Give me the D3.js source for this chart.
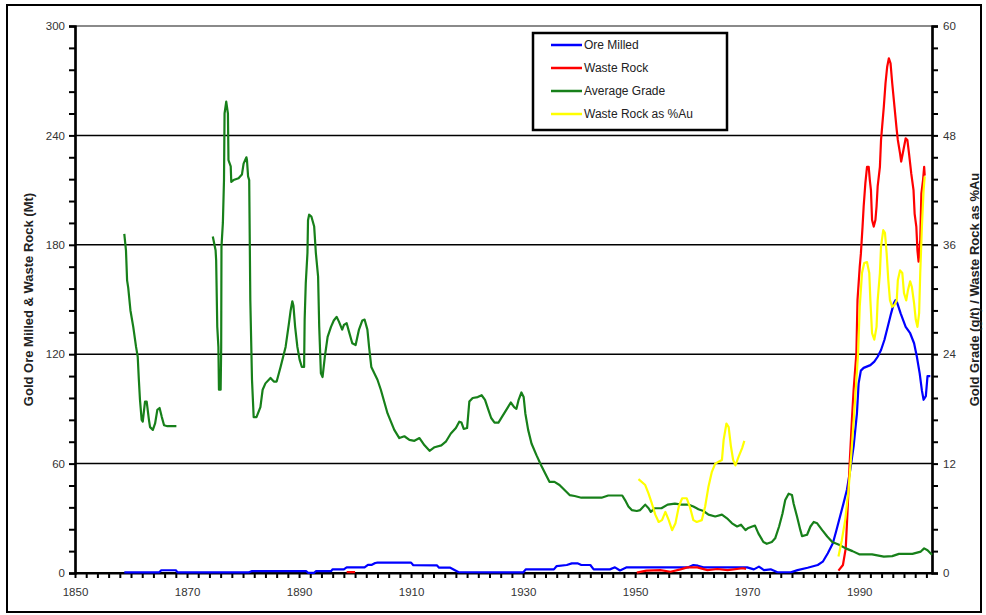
<!DOCTYPE html>
<html>
<head>
<meta charset="utf-8">
<script src="https://cdn.jsdelivr.net/npm/d3@7"></script>
<style>
  html, body { margin: 0; padding: 0; background: #fff; }
  svg { display: block; font-family: "Liberation Sans", Arial, sans-serif; }
</style>
</head>
<body>
<svg id="chart" width="986" height="615"></svg>
<script>
// ---------- DATA ----------
const xTickLabels = [1850, 1870, 1890, 1910, 1930, 1950, 1970, 1990];
const leftTicks = [0, 60, 120, 180, 240, 300];
const rightTicks = [0, 12, 24, 36, 48, 60];
const seriesNames = ["Ore Milled", "Waste Rock", "Average Grade", "Waste Rock as %Au"];

// Ore Milled (Mt, left axis)
const oreYears = [1858.8,1865,1865.4,1868,1868.3,1881,1881.5,1891.3,1891.6,1892.7,1893,1895.7,1896,1898,1898.5,1901.7,1902.3,1903,1903.6,1904,1910,1910.4,1914.6,1915,1917,1918.5,1930,1930.5,1935.5,1936,1937.8,1938.7,1939.7,1940.4,1942,1942.6,1945.5,1946.4,1947.3,1948.5,1959.5,1960.4,1961.2,1962.2,1970,1971.2,1972.1,1973,1974.2,1975.4,1977.8,1979,1980.8,1982.6,1983.5,1984.4,1985.3,1985.9,1987.2,1987.8,1988.4,1989,1989.6,1989.9,1990.3,1990.8,1992,1992.7,1993.3,1993.9,1994.5,1995.1,1995.7,1996.2,1996.5,1996.8,1997.4,1998.3,1999.1,1999.8,2000.3,2000.8,2001.2,2001.5,2001.9,2002.2,2002.7];
const oreMt    = [0.3,0.3,1.5,1.5,0.3,0.3,1.0,1.0,0.1,0.1,1.0,1.0,2.0,2.0,3.1,3.1,4.5,4.5,5.5,5.7,5.7,4.3,4.2,2.9,2.9,0.4,0.3,2.0,2.0,3.8,4.4,5.3,5.3,4.4,4.4,2.0,2.0,3.1,1.4,3.1,3.1,4.4,4.0,3.1,3.1,2.0,3.5,1.6,2.0,0.4,0.4,1.6,2.9,4.4,6.2,10.8,16.3,23,38.2,45.5,56.5,69.3,87.6,104,111,112.5,114,115.9,118.6,122.3,127.8,135,142.4,148,149.7,148,142.4,135,131.5,126,118.6,109.5,100,95,97,108,108];

// Waste Rock (Mt, left axis)
const wasteYears = [1898.5,1900,1925,1950.3,1952,1954.5,1956.3,1958.1,1959.3,1961.1,1962.9,1964.7,1966.5,1969.2,1969.8,1978,1986.3,1987.1,1987.6,1987.9,1988.3,1988.7,1989,1989.5,1989.7,1990.1,1990.3,1990.6,1990.8,1991.1,1991.4,1991.7,1991.9,1992.1,1992.3,1992.6,1992.9,1993.1,1993.3,1993.7,1993.9,1994.1,1994.4,1994.7,1995,1995.3,1995.6,1995.9,1996.3,1996.7,1996.9,1997.3,1997.5,1997.9,1998.3,1998.6,1998.9,1999.3,1999.7,1999.9,2000.2,2000.4,2000.6,2000.9,2001.1,2001.4,2001.6,2001.7];
const wasteMt    = [0.5,0.5,null,0.2,1.3,1.6,0.7,2.0,3.1,3.1,1.6,2.2,1.6,2.6,2.3,null,1.3,4.4,13.5,32.7,60,84,100,120.5,149.7,168,175,190,201,213.7,222.8,222.8,215.5,210,193.6,190,193.6,201,212,222.8,237.5,244.8,255.8,268.6,277.7,282.3,279.5,268.6,255.8,243,237.5,230,225.6,232,238.4,237.5,230,219,210,197,190,177,170.7,182.6,208,215.5,222.8,218];

// Average Grade (g/t, right axis)
const gradeYears = [1858.8,1859.1,1859.3,1859.5,1859.9,1860.4,1860.9,1861.2,1861.4,1861.6,1861.9,1862.1,1862.5,1862.8,1863.2,1863.4,1863.9,1864.3,1864.7,1865.1,1865.5,1865.9,1866.5,1868.1,1871,1874.6,1875.1,1875.2,1875.4,1875.6,1875.7,1876.0,1876.1,1876.15,1876.4,1876.6,1876.7,1877.0,1877.3,1877.4,1877.8,1877.9,1878.3,1879.2,1879.8,1880.1,1880.6,1880.7,1880.9,1881.1,1881.3,1881.6,1881.9,1882.4,1883.1,1883.5,1884.0,1884.9,1885.5,1886.0,1886.7,1887.6,1888.2,1888.5,1888.8,1889.0,1889.3,1889.7,1890.1,1890.5,1890.9,1891.0,1891.2,1891.5,1891.6,1891.8,1892.2,1892.7,1893.0,1893.4,1893.6,1893.9,1894.2,1894.6,1895.1,1895.7,1896.2,1896.7,1897.1,1897.7,1898.0,1898.5,1898.9,1899.5,1900.1,1900.7,1901.3,1901.7,1902.2,1902.5,1902.9,1904.0,1904.6,1905.8,1907.0,1907.9,1908.8,1909.7,1910.6,1911.5,1912.4,1913.3,1914.2,1915.4,1916.2,1917.1,1918.0,1918.6,1919.0,1919.4,1920.0,1920.4,1921.0,1921.9,1922.6,1923.2,1923.8,1924.3,1924.9,1925.6,1926.2,1927.0,1927.8,1928.4,1928.8,1929.2,1929.7,1930.1,1930.4,1930.9,1931.5,1932.4,1933.3,1934.2,1934.7,1935.6,1936.5,1937.4,1938.3,1939.2,1940.4,1942.2,1944.0,1945.2,1946.4,1947.7,1948.2,1948.8,1949.4,1950.3,1950.9,1951.8,1952.4,1952.8,1953.5,1954.7,1955.8,1957.1,1958.3,1959.5,1960.4,1961.3,1962.2,1963.1,1964.3,1965.5,1966.4,1967.3,1968.2,1968.9,1969.7,1970.1,1970.9,1971.4,1972.0,1972.9,1973.5,1974.4,1975.0,1975.7,1976.3,1976.8,1977.4,1978.0,1978.3,1978.9,1979.5,1979.8,1980.7,1981.3,1981.9,1982.5,1983.4,1984.3,1985.2,1986.4,1987.6,1988.8,1990.0,1992.3,1994.4,1995.9,1997.1,1999.5,2001.0,2001.6,2002.2,2003.0];
const gradeGt    = [37.2,35.4,32.1,31.3,28.8,27.0,24.8,23.7,21.2,19.0,16.8,16.6,18.8,18.8,16.8,16.0,15.7,16.4,17.9,18.1,17.1,16.2,16.1,16.1,null,36.9,35.4,34.3,27.0,24.8,20.1,20.1,24.8,35.8,38.4,43.1,50.4,51.7,50.4,45.3,44.6,42.9,43.1,43.3,43.7,44.9,45.6,45.3,43.5,43.1,29.9,21.2,17.1,17.1,18.2,20.1,20.8,21.4,21.0,21.0,22.6,24.8,27.4,28.8,29.8,29.3,27.0,24.8,23.4,22.6,22.6,27.8,31.8,35.1,38.7,39.3,39.1,38.0,35.1,32.5,27.0,21.9,21.5,23.7,25.9,27.0,27.7,28.1,27.6,26.7,27.2,27.4,26.5,25.2,25.0,26.7,27.7,27.8,26.7,24.8,22.6,21.2,20.1,17.5,15.7,14.8,15.0,14.6,14.5,14.8,14.0,13.4,13.8,14.0,14.4,15.3,15.9,16.6,16.5,15.8,15.9,18.8,19.2,19.3,19.5,19.0,17.9,17.0,16.5,16.5,17.1,17.9,18.7,18.2,18.0,19.0,19.8,19.3,17.5,15.7,14.2,12.9,11.7,10.6,10.0,10.0,9.65,9.1,8.55,8.45,8.26,8.26,8.26,8.5,8.5,8.5,8.0,7.3,6.9,6.8,6.9,7.5,7.1,6.7,7.1,7.1,7.5,7.6,7.5,7.5,7.3,7.0,6.8,6.4,6.2,6.4,6.0,5.45,5.1,5.3,4.7,4.9,5.1,5.2,4.35,3.4,3.2,3.4,3.8,5.1,6.5,8.0,8.7,8.55,7.6,6.2,4.7,4.05,4.2,5.1,5.6,5.45,4.7,4.0,3.4,3.1,2.7,2.4,2.05,2.05,1.8,1.85,2.1,2.1,2.35,2.7,2.5,2.0];

// Waste Rock as %Au (right axis)
const pctYears = [1950.6,1951.8,1952.4,1953,1953.6,1954.2,1954.8,1955.4,1956,1956.6,1957.2,1957.8,1958.4,1959.2,1959.8,1960.4,1961,1961.9,1962.5,1963.1,1963.7,1964.3,1964.9,1965.5,1965.8,1966.3,1966.7,1967.1,1967.5,1967.9,1968.5,1969.1,1969.5,1978,1986.3,1986.9,1987.5,1988.1,1988.7,1989.1,1989.5,1989.8,1990.1,1990.5,1990.9,1991.4,1991.8,1992,1992.3,1992.7,1993.1,1993.3,1993.7,1993.9,1994.3,1994.6,1994.9,1995.2,1995.5,1995.9,1996.3,1996.7,1996.9,1997.3,1997.7,1998,1998.4,1998.7,1999.1,1999.4,1999.8,2000.1,2000.4,2000.7,2000.9,2001.2,2001.5,2001.7];
const pctAu    = [10.3,9.65,8.7,7.6,6.4,5.6,5.8,6.7,5.8,4.7,5.45,7.3,8.2,8.2,7.2,5.8,5.6,5.8,7.3,9.5,11.1,12.0,12.2,12.4,14.6,16.4,16.0,13.9,12.4,11.8,12.8,13.7,14.5,null,1.8,3.6,5.8,9.1,13.9,17.5,21.2,24,29.2,32.9,34.0,34.1,32.9,29.9,26.3,25.6,27.0,29.9,32.9,35.8,37.6,37.3,35.1,32.1,29.9,29.2,29.4,29.9,32.1,33.2,32.9,30.7,29.9,31.0,32.0,31.4,29.6,27.8,27.0,28.5,32.9,38.0,42.0,43.5];

// ---------- LAYOUT ----------
const svg = d3.select("#chart");
const L = 75, R = 932, T = 26, B = 573;
const x = d3.scaleLinear().domain([1850, 2003]).range([L, R]);
const yL = d3.scaleLinear().domain([0, 300]).range([B, T]);
const yR = d3.scaleLinear().domain([0, 60]).range([B, T]);

// outer border
svg.append("rect").attr("x", 7).attr("y", 5).attr("width", 974).attr("height", 607)
  .attr("fill", "#fff").attr("stroke", "#000").attr("stroke-width", 2);

// gridlines
const gridVals = [60, 120, 180, 240];
svg.append("g").selectAll("line").data(gridVals).join("line")
  .attr("x1", L).attr("x2", R).attr("y1", d => yL(d)).attr("y2", d => yL(d))
  .attr("stroke", "#000").attr("stroke-width", 1.5);
svg.append("line").attr("x1", L).attr("x2", R).attr("y1", yL(300)).attr("y2", yL(300))
  .attr("stroke", "#8a8a8a").attr("stroke-width", 2);

// left axis
const leftAxis = d3.axisLeft(yL).tickValues(leftTicks).tickSize(6).tickPadding(4);
const gL = svg.append("g").attr("transform", `translate(${L},0)`).call(leftAxis);
gL.append("g").call(d3.axisLeft(yL).tickValues(d3.range(12, 300, 12).filter(v => v % 60 !== 0)).tickSize(6).tickFormat(""));

// right axis
const rightAxis = d3.axisRight(yR).tickValues(rightTicks).tickSize(6).tickPadding(5);
const gR = svg.append("g").attr("transform", `translate(${R},0)`).call(rightAxis);
gR.append("g").call(d3.axisRight(yR).tickValues(d3.range(2.4, 60, 2.4).filter(v => Math.abs(v / 12 - Math.round(v / 12)) > 0.01)).tickSize(6).tickFormat(""));

// bottom axis
const gB = svg.append("g").attr("transform", `translate(0,${B})`)
  .call(d3.axisBottom(x).tickValues(d3.range(1850, 2003, 2)).tickSize(5).tickFormat(""));
gB.append("g").call(d3.axisBottom(x).tickValues(xTickLabels).tickSize(0).tickPadding(15).tickFormat(d3.format("d")));

[gL, gR, gB].forEach(g => {
  g.selectAll(".domain").attr("stroke", "#000").attr("stroke-width", 2.2);
  g.selectAll(".tick line").attr("stroke", "#000").attr("stroke-width", 2);
  g.selectAll("text").attr("font-size", 11.5).attr("fill", "#333")
    .attr("font-family", "'Liberation Sans', Arial, sans-serif");
});
gB.select(".domain").attr("d", `M${L},0H${R}`);

// axis titles
svg.append("text").attr("transform", `translate(33,${(T + B) / 2}) rotate(-90)`)
  .attr("text-anchor", "middle").attr("font-size", 13).attr("font-weight", "bold").attr("fill", "#222")
  .text("Gold Ore Milled & Waste Rock (Mt)");
svg.append("text").attr("transform", `translate(979,${(T + B) / 2 - 10}) rotate(-90)`)
  .attr("text-anchor", "middle").attr("font-size", 13).attr("font-weight", "bold").attr("fill", "#222")
  .text("Gold Grade (g/t) / Waste Rock as %Au");

// lines
function drawLine(years, vals, yScale, color) {
  const pts = years.map((yr, i) => [yr, vals[i]]);
  const line = d3.line().defined(d => d[1] !== null).x(d => x(d[0])).y(d => yScale(d[1]));
  svg.append("path").datum(pts).attr("d", line).attr("fill", "none")
    .attr("stroke", color).attr("stroke-width", 2.2).attr("stroke-linejoin", "round");
}
const colors = ["#0000ff", "#ff0000", "#17801a", "#ffff00"];
drawLine(oreYears, oreMt, yL, colors[0]);
drawLine(wasteYears, wasteMt, yL, colors[1]);
drawLine(gradeYears, gradeGt, yR, colors[2]);
drawLine(pctYears, pctAu, yR, colors[3]);

// legend
const lg = svg.append("g");
lg.append("rect").attr("x", 533).attr("y", 33).attr("width", 194).attr("height", 97)
  .attr("fill", "#fff").attr("stroke", "#000").attr("stroke-width", 2.5);
seriesNames.forEach((name, i) => {
  const yy = 45 + i * 23;
  lg.append("line").attr("x1", 551).attr("x2", 582).attr("y1", yy).attr("y2", yy)
    .attr("stroke", colors[i]).attr("stroke-width", 2.5);
  lg.append("text").attr("x", 584).attr("y", yy + 4).attr("font-size", 12).attr("fill", "#222").text(name);
});
</script>
</body>
</html>
